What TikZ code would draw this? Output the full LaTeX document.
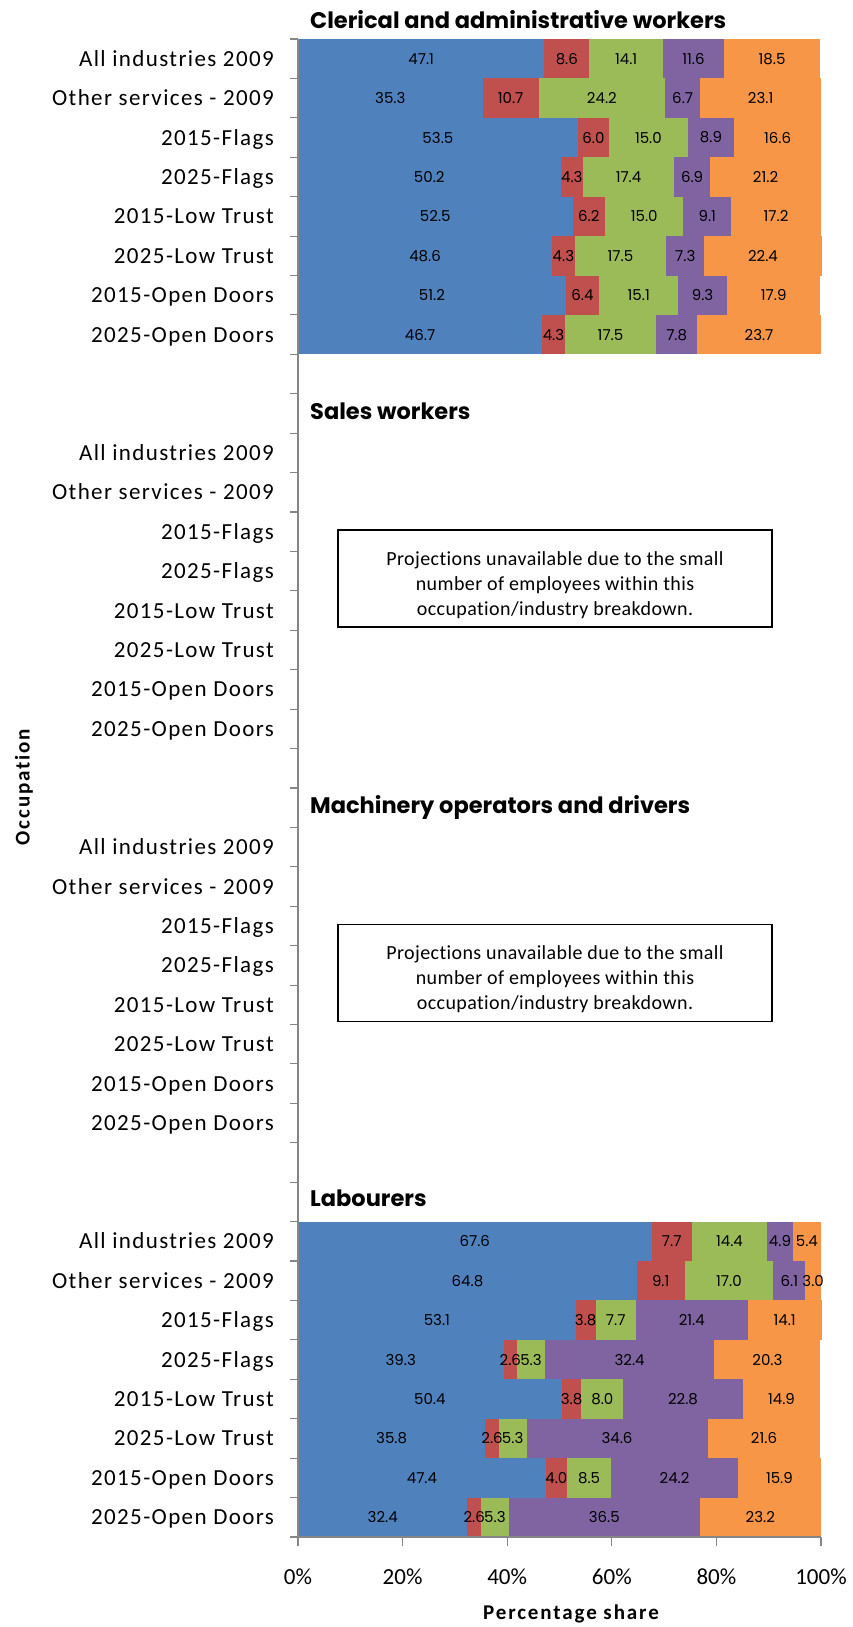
\documentclass[tikz,border=0pt]{standalone}
\usepackage{fontspec}
\setmainfont{Carlito}[Ligatures=NoCommon]
\newfontfamily\gothic{Poppins}
\usepackage{tikz}
\usetikzlibrary{positioning}
\definecolor{shblue}{HTML}{4F81BD}
\definecolor{shred}{HTML}{C0504D}
\definecolor{shgreen}{HTML}{9BBB59}
\definecolor{shviolet}{HTML}{8064A2}
\definecolor{shorange}{HTML}{F79646}
\definecolor{axisgray}{HTML}{868686}

\newcommand{\sharebar}[6]{%
  \pgfmathsetmacro{\sbTop}{39+39.42*#1}%
  \pgfmathsetmacro{\sbBot}{\sbTop+39.42}%
  \pgfmathsetmacro{\sbMid}{\sbTop+19.71}%
  \pgfmathsetmacro{\sbA}{#2}%
  \pgfmathsetmacro{\sbB}{\sbA+#3}%
  \pgfmathsetmacro{\sbC}{\sbB+#4}%
  \pgfmathsetmacro{\sbD}{\sbC+#5}%
  \pgfmathsetmacro{\sbE}{\sbD+#6}%
  \fill[shblue] (298,\sbTop) rectangle ({298+5.23*\sbA},\sbBot);
  \fill[shred] ({298+5.23*\sbA},\sbTop) rectangle ({298+5.23*\sbB},\sbBot);
  \fill[shgreen] ({298+5.23*\sbB},\sbTop) rectangle ({298+5.23*\sbC},\sbBot);
  \fill[shviolet] ({298+5.23*\sbC},\sbTop) rectangle ({298+5.23*\sbD},\sbBot);
  \fill[shorange] ({298+5.23*\sbD},\sbTop) rectangle ({298+5.23*\sbE},\sbBot);
  \draw ({298+5.23*\sbA/2},\sbMid) node[val](v#1a){#2};
  \draw ({298+5.23*(\sbA+\sbB)/2},\sbMid) node[val](v#1b){#3};
  \draw ({298+5.23*(\sbB+\sbC)/2},\sbMid) node[val](v#1c){#4};
  \draw ({298+5.23*(\sbC+\sbD)/2},\sbMid) node[val](v#1d){#5};
  \draw ({298+5.23*(\sbD+\sbE)/2},\sbMid) node[val](v#1e){#6};
}

\begin{document}
\begin{tikzpicture}[x=1pt,y=-1pt,
  axis/.style={draw=axisgray,line width=1.1pt},
  val/.style={inner sep=0pt,font=\gothic\fontsize{15}{15}\selectfont},
  cat/.style={anchor=base east,inner sep=0pt,font=\fontsize{23}{23}\selectfont\addfontfeatures{LetterSpace=6}},
  pct/.style={anchor=base,inner sep=0pt,font=\fontsize{23}{23}\selectfont},
  grouptitle/.style={anchor=base west,inner sep=0pt,font=\gothic\bfseries\fontsize{22.5}{22.5}\selectfont},
  notebox/.style={draw=black,line width=1.4pt,minimum width=434pt,minimum height=97pt,inner sep=0pt},
  notetext/.style={align=center,inner sep=0pt,font=\fontsize{20}{25}\selectfont\addfontfeatures{LetterSpace=2}},
  axistitle/.style={inner sep=0pt,font=\bfseries\fontsize{21}{21}\selectfont\addfontfeatures{LetterSpace=9}}]
  \useasboundingbox (0,0) rectangle (852,1627);
  \sharebar{0}{47.1}{8.6}{14.1}{11.6}{18.5}
  \sharebar{1}{35.3}{10.7}{24.2}{6.7}{23.1}
  \sharebar{2}{53.5}{6.0}{15.0}{8.9}{16.6}
  \sharebar{3}{50.2}{4.3}{17.4}{6.9}{21.2}
  \sharebar{4}{52.5}{6.2}{15.0}{9.1}{17.2}
  \sharebar{5}{48.6}{4.3}{17.5}{7.3}{22.4}
  \sharebar{6}{51.2}{6.4}{15.1}{9.3}{17.9}
  \sharebar{7}{46.7}{4.3}{17.5}{7.8}{23.7}
  \sharebar{30}{67.6}{7.7}{14.4}{4.9}{5.4}
  \sharebar{31}{64.8}{9.1}{17.0}{6.1}{3.0}
  \sharebar{32}{53.1}{3.8}{7.7}{21.4}{14.1}
  \sharebar{33}{39.3}{2.6}{5.3}{32.4}{20.3}
  \sharebar{34}{50.4}{3.8}{8.0}{22.8}{14.9}
  \sharebar{35}{35.8}{2.6}{5.3}{34.6}{21.6}
  \sharebar{36}{47.4}{4.0}{8.5}{24.2}{15.9}
  \sharebar{37}{32.4}{2.6}{5.3}{36.5}{23.2}
  \foreach \k in {0,...,38}
    \draw[axis] (290,{39+39.42*\k}) -- (298,{39+39.42*\k});
  \draw[axis] (298,39) -- (298,1537) -- (821,1537);
  \foreach \p in {0,20,...,100}{
    \draw[axis] ({298+5.23*\p},1537) -- ({298+5.23*\p},1546);
    \draw ({298+5.23*\p},1584.3) node[pct](x\p){\p\%};
  }
  \foreach \lab [count=\i from 0] in {All industries 2009,Other services - 2009,2015-Flags,2025-Flags,2015-Low Trust,2025-Low Trust,2015-Open Doors,2025-Open Doors}
    \foreach \g in {0,10,20,30}
      \draw (274,{39+39.42*(\g+\i+0.5)+7.5}) node[cat](c\g-\i){\lab};
  \draw (310,28.8) node[grouptitle](clerical){Clerical and administrative workers};
  \draw (310,419.3) node[grouptitle](sales){Sales workers};
  \draw (310,813.3) node[grouptitle](machinery){Machinery operators and drivers};
  \draw (310,1206.3) node[grouptitle](labourers){Labourers};
  \draw (555,578.5) node[notebox](salesbox){};
  \node[notetext] (salestext) at ([yshift=-6.5pt]salesbox.center) {Projections unavailable due to the small\\number of employees within this\\occupation/industry breakdown.};
  \draw (555,972.7) node[notebox](machinerybox){};
  \node[notetext] (machinerytext) at ([yshift=-6.5pt]machinerybox.center) {Projections unavailable due to the small\\number of employees within this\\occupation/industry breakdown.};
  \draw (24,787) node[axistitle,rotate=90](occupation){Occupation};
  \draw (571,1614) node[axistitle](share){Percentage share};
\end{tikzpicture}
\end{document}
